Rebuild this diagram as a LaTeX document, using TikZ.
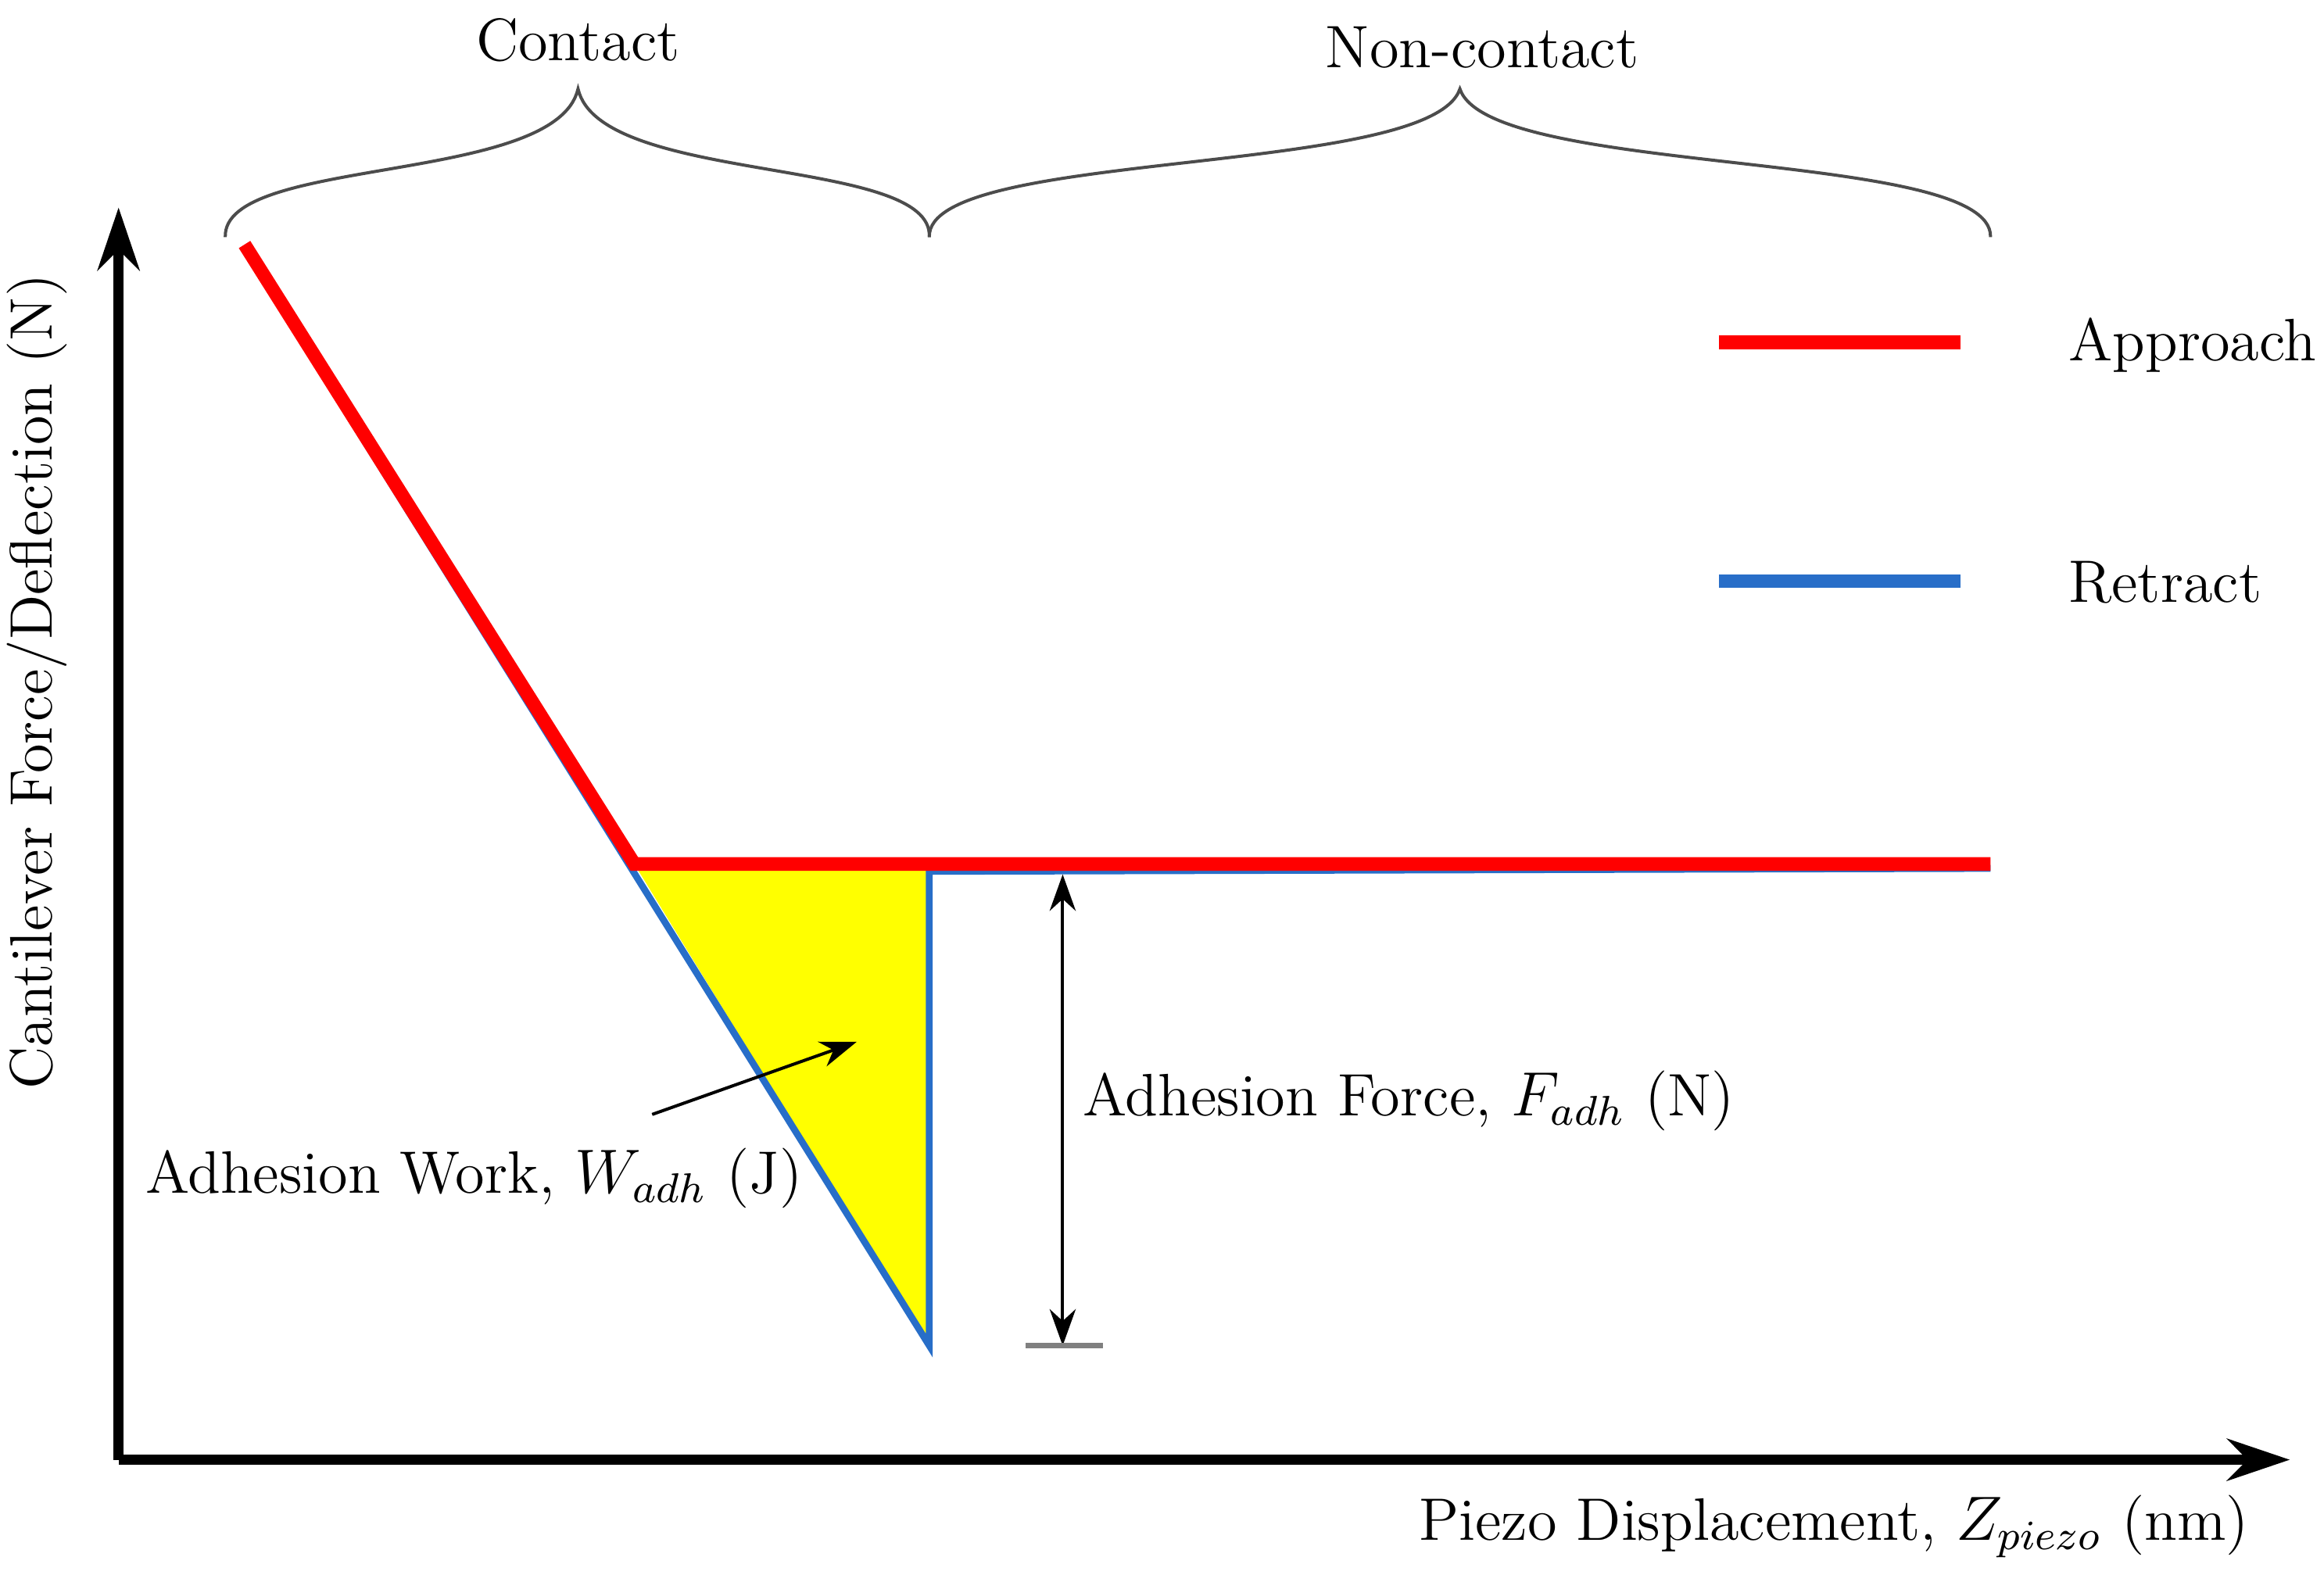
\documentclass[tikz,border=0pt]{standalone}
\usetikzlibrary{arrows.meta}
\definecolor{appr}{RGB}{255,0,0}
\definecolor{retr}{RGB}{40,110,200}
\definecolor{fillY}{RGB}{255,255,0}
\begin{document}
\begin{tikzpicture}[x=0.01cm,y=-0.01cm,
  lbl/.style={font=\fontsize{11.5}{14}\selectfont, inner sep=0pt},
  axis/.style={line width=2pt,-{Stealth[length=12pt,width=8pt]}},
  brace/.style={line width=0.6pt, draw=black!70}]
\useasboundingbox (0,0) rectangle (1568,1067);
% coordinates
\coordinate (o) at (80,985);
\coordinate (ytop) at (80,140);
\coordinate (xend) at (1545,985);
\coordinate (a0) at (165,165);
\coordinate (a1) at (428,583);
\coordinate (a2) at (1343,583);
\coordinate (r0) at (165,168);
\coordinate (r1) at (627,908);
\coordinate (r2) at (627,588);
\coordinate (r3) at (1343,586);
\coordinate (t1) at (627,583);
% fill
\fill[fillY] (a1) -- (t1) -- (r1) -- cycle;
% curves
\draw[retr, line width=1.3pt] (r0) -- (r1) -- (r2) -- (r3);
\draw[appr, line width=2.6pt] (a0) -- (a1) -- (a2);
% axes
\draw[axis] (o) -- (ytop);
\draw[axis] (o) -- (xend);
% dimension
\coordinate (d0) at (717,590);
\coordinate (d1) at (717,908);
\draw[line width=0.6pt, {Stealth[length=7pt,width=5pt]}-{Stealth[length=7pt,width=5pt]}] (d0) -- (d1);
\coordinate (k0) at (692,908);
\coordinate (k1) at (744,908);
\draw[gray, line width=1pt] (k0) -- (k1);
% work arrow
\coordinate (w0) at (440,752);
\coordinate (w1) at (578,703);
\draw[line width=0.6pt, -{Stealth[length=7pt,width=5pt]}] (w0) -- (w1);
% labels
\node[lbl, anchor=west] (fadh) at (730,743) {Adhesion Force, $F_{adh}$ (N)};
\node[lbl, anchor=east] (wadh) at (542,795) {Adhesion Work, $W_{adh}$ (J)};
\node[lbl, rotate=90] (ylab) at (25,460) {Cantilever Force/Deflection (N)};
\node[lbl, anchor=east] (xlab) at (1518,1030) {Piezo Displacement, $Z_{piezo}$ (nm)};
% legend
\coordinate (la0) at (1160,231); \coordinate (la1) at (1323,231);
\coordinate (lr0) at (1160,392); \coordinate (lr1) at (1323,392);
\draw[appr, line width=2.6pt] (la0) -- (la1);
\draw[retr, line width=2.6pt] (lr0) -- (lr1);
\node[lbl, anchor=west] (lapp) at (1395,233) {Approach};
\node[lbl, anchor=west] (lret) at (1395,393) {Retract};
% braces
\draw[brace] (152,160) .. controls (150,105) and (375,125) .. (390,60)
  .. controls (405,125) and (630,105) .. (627,160);
\draw[brace] (627,160) .. controls (625,100) and (965,120) .. (985,60)
  .. controls (1005,120) and (1345,100) .. (1343,160);
\node[lbl] (contact) at (390,27) {Contact};
\node[lbl] (noncontact) at (1000,32) {Non-contact};
\end{tikzpicture}
\end{document}
